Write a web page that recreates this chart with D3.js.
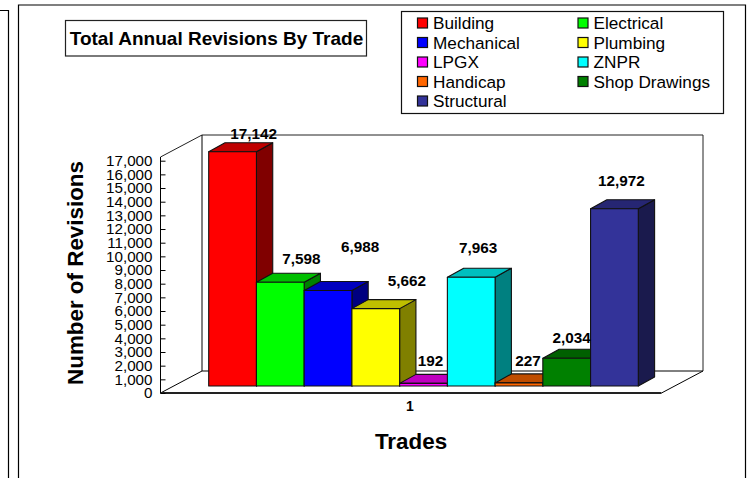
<!DOCTYPE html>
<html>
<head>
<meta charset="utf-8">
<script src="https://cdn.jsdelivr.net/npm/d3@7"></script>
<style>
  html, body { margin: 0; padding: 0; background: #fff; }
  svg { display: block; }
  text { font-family: "Liberation Sans", Arial, sans-serif; fill: #000; }
</style>
</head>
<body>
<div id="chart"></div>
<script>
const trades = ["Building", "Electrical", "Mechanical", "Plumbing", "LPGX", "ZNPR", "Handicap", "Shop Drawings", "Structural"];
const revisions = [17142, 7598, 6988, 5662, 192, 7963, 227, 2034, 12972];
const tradeColors = ["#ff0000", "#00ff00", "#0000ff", "#ffff00", "#ff00ff", "#00ffff", "#ff6600", "#008000", "#333399"];
const yTicks = d3.range(0, 18000, 1000);
// hand placed in the original, so nudged per bar: [dx, dy] from the top of the front face
const labelNudge = [[21, -18], [21, -23], [32, -44], [31, -28], [7, -22], [7, -29], [9, -22], [5, -20], [7, -28]];

const width = 750, height = 478;

const svg = d3.select("#chart")
    .append("svg")
    .attr("width", width)
    .attr("height", height);

// Outer frames, both run off the bottom of the picture
svg.append("path")
    .attr("d", "M0,10.5H8.5V478")
    .attr("fill", "none")
    .attr("stroke", "#000")
    .attr("stroke-width", 1.2);
svg.append("path")
    .attr("d", "M18.5,478V5H745.5V478")
    .attr("fill", "none")
    .attr("stroke", "#000")
    .attr("stroke-width", 1.2);

// Title box
svg.append("rect")
    .attr("x", 65.5).attr("y", 20.5)
    .attr("width", 301).attr("height", 35.5)
    .attr("fill", "#fff")
    .attr("stroke", "#222")
    .attr("stroke-width", 1.2);
svg.append("text")
    .attr("x", 216.5).attr("y", 45)
    .attr("text-anchor", "middle")
    .attr("font-size", 19)
    .attr("font-weight", "bold")
    .text("Total Annual Revisions By Trade");

// Legend
const legend = svg.append("g");
legend.append("rect")
    .attr("x", 401.5).attr("y", 11.5)
    .attr("width", 322).attr("height", 102)
    .attr("fill", "#fff")
    .attr("stroke", "#111")
    .attr("stroke-width", 1.2);

const legendItem = legend.selectAll("g")
    .data(trades)
    .enter().append("g")
    .attr("transform", (d, i) => `translate(${i % 2 ? 578 : 417.5},${23 + 19.5 * Math.floor(i / 2)})`);
legendItem.append("rect")
    .attr("x", 0).attr("y", -5)
    .attr("width", 10).attr("height", 10)
    .attr("fill", (d, i) => tradeColors[i])
    .attr("stroke", "#111")
    .attr("stroke-width", 1.2);
legendItem.append("text")
    .attr("x", 15.5).attr("y", 6)
    .attr("font-size", 17.2)
    .text(d => d);

// Scales
const plotLeft = 160.5, plotRight = 661.5;
const y = d3.scaleLinear().domain([0, 17000]).range([393, 160.7]);
const x = d3.scaleBand().domain(trades).range([208.7, 638.3]);

// Box: floor, back wall, side wall
const wallDx = 41.5, wallDy = 22, wallTop = 135;
const box = svg.append("g").attr("fill", "none");
box.append("path")
    .attr("d", `M${plotLeft},${y(0)}L${plotLeft + wallDx},${y(0) - wallDy}H${plotRight + wallDx}L${plotRight},${y(0)}`)
    .attr("stroke", "#000");
box.append("path")
    .attr("d", `M${plotLeft},${wallTop + wallDy}L${plotLeft + wallDx},${wallTop}H${plotRight + wallDx}V${y(0) - wallDy}`)
    .attr("stroke", "#222");
box.append("path")
    .attr("d", `M${plotLeft + wallDx},${wallTop}V${y(0) - wallDy}`)
    .attr("stroke", "#000");
box.append("path")
    .attr("d", `M${plotLeft},${y(0)}H${plotRight}`)
    .attr("stroke", "#222")
    .attr("stroke-width", 2);

// Y axis, ticks point into the chart
const yAxis = svg.append("g")
    .attr("transform", `translate(${plotLeft},0)`)
    .call(d3.axisLeft(y).tickValues(yTicks).tickFormat(d3.format(",")).tickSize(-5).tickPadding(8));
yAxis.selectAll("text").attr("font-size", 15.2).attr("font-family", null).attr("fill", "#111");
yAxis.selectAll("line").attr("stroke", "#000");
yAxis.select(".domain").attr("d", `M0,${y(0)}V${wallTop + wallDy}`).attr("stroke", "#000");

function shade(color, k) {
  const c = d3.rgb(color);
  return d3.rgb(c.r * k, c.g * k, c.b * k).formatHex();
}

// 3D bars, left to right so each one paints over the side of the last
const barFront = 7, depthX = 16.3, depthY = 9;
const barH = v => y(0) - y(v);
const barBottom = y(0) - barFront;

const bars = svg.append("g")
    .selectAll("g")
    .data(trades)
    .enter().append("g")
    .attr("stroke", "#111")
    .attr("stroke-width", 1.1)
    .attr("stroke-linejoin", "round");

bars.append("path")
    .attr("fill", (d, i) => shade(tradeColors[i], 0.5))
    .attr("d", (d, i) => {
      const r = x(d) + x.bandwidth(), t = barBottom - barH(revisions[i]);
      return `M${r},${barBottom}L${r + depthX},${barBottom - depthY}V${t - depthY}L${r},${t}Z`;
    });
bars.append("path")
    .attr("fill", (d, i) => shade(tradeColors[i], 0.75))
    .attr("d", (d, i) => {
      const l = x(d), r = l + x.bandwidth(), t = barBottom - barH(revisions[i]);
      return `M${l},${t}L${l + depthX},${t - depthY}H${r + depthX}L${r},${t}Z`;
    });
bars.append("rect")
    .attr("fill", (d, i) => tradeColors[i])
    .attr("x", d => x(d))
    .attr("y", (d, i) => barBottom - barH(revisions[i]))
    .attr("width", x.bandwidth())
    .attr("height", (d, i) => barH(revisions[i]));

// Value labels
svg.append("g")
    .selectAll("text")
    .data(trades)
    .enter().append("text")
    .attr("x", (d, i) => x(d) + x.bandwidth() / 2 + labelNudge[i][0])
    .attr("y", (d, i) => barBottom - barH(revisions[i]) + labelNudge[i][1] + 5)
    .attr("text-anchor", "middle")
    .attr("font-size", 15.3)
    .attr("font-weight", "bold")
    .text((d, i) => d3.format(",")(revisions[i]));

// Category and axis titles
svg.append("text")
    .attr("x", 410).attr("y", 411)
    .attr("text-anchor", "middle")
    .attr("font-size", 14)
    .attr("font-weight", "bold")
    .text("1");
svg.append("text")
    .attr("x", 411).attr("y", 449)
    .attr("text-anchor", "middle")
    .attr("font-size", 22.4)
    .attr("font-weight", "bold")
    .text("Trades");
svg.append("text")
    .attr("transform", "translate(83,273) rotate(-90)")
    .attr("text-anchor", "middle")
    .attr("font-size", 22.4)
    .attr("font-weight", "bold")
    .text("Number of Revisions");
</script>
</body>
</html>
